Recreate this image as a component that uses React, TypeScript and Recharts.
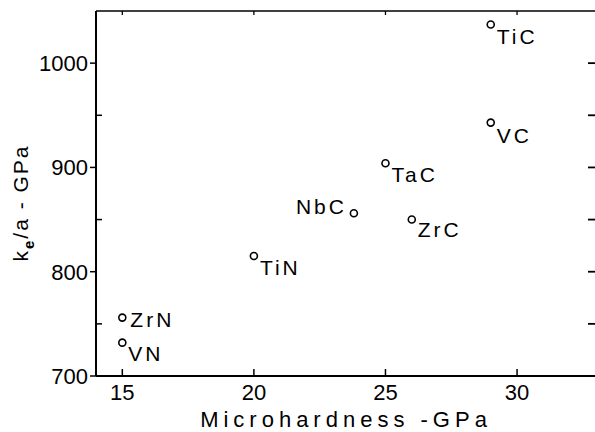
import React from 'react';
import { ScatterChart, Scatter, XAxis, YAxis } from 'recharts';

const compounds = ['TiC', 'VC', 'TaC', 'NbC', 'ZrC', 'TiN', 'ZrN', 'VN'];
const microhardness = [29, 29, 25, 23.8, 26, 20, 15, 15];
const keOverA = [1037, 943, 904, 856, 850, 815, 756, 732];

const xTicks = [15, 20, 25, 30];
const yTicks = [700, 750, 800, 850, 900, 950, 1000, 1050];

const data = compounds.map((name, i) => ({ name, x: microhardness[i], y: keOverA[i] }));

const FONT = '"Liberation Sans", Arial, sans-serif';
const PLOT = { left: 96, top: 11, right: 596, bottom: 376 };

// where each label sits relative to its circle
const labelPos: Record<string, { dx: number; dy: number; anchor: 'start' | 'end' }> = {
  TiC: { dx: 6, dy: 19, anchor: 'start' },
  VC: { dx: 6, dy: 20, anchor: 'start' },
  TaC: { dx: 6, dy: 19, anchor: 'start' },
  NbC: { dx: -7, dy: 1, anchor: 'end' },
  ZrC: { dx: 6, dy: 17, anchor: 'start' },
  TiN: { dx: 6, dy: 19, anchor: 'start' },
  ZrN: { dx: 8, dy: 9, anchor: 'start' },
  VN: { dx: 6, dy: 18, anchor: 'start' },
};

const PointShape = (props: any) => {
  const { cx, cy, payload } = props;
  const p = labelPos[payload.name] ?? { dx: 6, dy: 18, anchor: 'start' };
  return (
    <g>
      <circle cx={cx} cy={cy} r={3.5} fill="none" stroke="#000" strokeWidth={1.6} />
      <text
        x={cx + p.dx}
        y={cy + p.dy}
        textAnchor={p.anchor}
        fontFamily={FONT}
        fontSize={21}
        letterSpacing={3}
        fill="#000"
      >
        {payload.name}
      </text>
    </g>
  );
};

const BottomTick = (props: any) => {
  const { x, payload } = props;
  return (
    <g>
      <line x1={x} x2={x} y1={PLOT.bottom} y2={PLOT.bottom - 7} stroke="#000" strokeWidth={1.5} />
      <text x={x} y={400} textAnchor="middle" fontFamily={FONT} fontSize={22} fill="#000">
        {payload.value}
      </text>
    </g>
  );
};

const TopTick = (props: any) => {
  const { x } = props;
  return <line x1={x} x2={x} y1={PLOT.top} y2={PLOT.top + 4} stroke="#000" strokeWidth={1.3} />;
};

const LeftTick = (props: any) => {
  const { y, payload } = props;
  const major = payload.value % 100 === 0;
  if (payload.value > 1000) return <g />;
  return (
    <g>
      {major ? (
        <line x1={PLOT.left - 6} x2={PLOT.left} y1={y} y2={y} stroke="#000" strokeWidth={1.5} />
      ) : (
        <line x1={PLOT.left} x2={PLOT.left + 6} y1={y} y2={y} stroke="#000" strokeWidth={1.5} />
      )}
      {major && (
        <text x={88} y={y + 8} textAnchor="end" fontFamily={FONT} fontSize={22} fill="#000">
          {payload.value}
        </text>
      )}
    </g>
  );
};

const RightTick = (props: any) => {
  const { y, payload } = props;
  if (payload.value > 1000 || payload.value < 750) return <g />;
  return <line x1={PLOT.right - 8} x2={PLOT.right} y1={y} y2={y} stroke="#000" strokeWidth={1.8} />;
};

const YTitle = () => (
  <text
    transform="translate(28,203) rotate(-90)"
    textAnchor="middle"
    fontFamily={FONT}
    fontSize={21}
    letterSpacing={2}
    fill="#000"
  >
    k
    <tspan fontWeight="bold" fontSize={15} dy={6}>e</tspan>
    <tspan dy={-6}>/a - GPa</tspan>
  </text>
);

export default function App() {
  return (
    <div
      style={{
        position: 'absolute',
        left: 0,
        top: 0,
        width: 595,
        height: 432,
        overflow: 'hidden',
        background: '#fff',
      }}
    >
      <ScatterChart width={600} height={432} margin={{ top: 0, right: 0, bottom: 0, left: 0 }}>
        <XAxis
          xAxisId="bottom"
          type="number"
          dataKey="x"
          domain={[14, 33]}
          ticks={xTicks}
          tickLine={false}
          tick={<BottomTick />}
          axisLine={{ stroke: '#000', strokeWidth: 2 }}
          height={432 - PLOT.bottom}
          interval={0}
          label={{
            value: 'Microhardness -GPa',
            position: 'insideBottom',
            offset: 5,
            fontFamily: FONT,
            fontSize: 22,
            letterSpacing: 5,
            fill: '#000',
          }}
        />
        <XAxis
          xAxisId="top"
          orientation="top"
          type="number"
          dataKey="x"
          domain={[14, 33]}
          ticks={xTicks}
          tickLine={false}
          tick={<TopTick />}
          axisLine={{ stroke: '#000', strokeWidth: 1.5 }}
          height={PLOT.top}
          interval={0}
        />
        <YAxis
          yAxisId="left"
          type="number"
          dataKey="y"
          domain={[700, 1050]}
          ticks={yTicks}
          tickLine={false}
          tick={<LeftTick />}
          axisLine={{ stroke: '#000', strokeWidth: 2 }}
          width={PLOT.left}
          interval={0}
        />
        <YAxis
          yAxisId="right"
          orientation="right"
          type="number"
          dataKey="y"
          domain={[700, 1050]}
          ticks={yTicks}
          tickLine={false}
          tick={<RightTick />}
          axisLine={false}
          width={600 - PLOT.right}
          interval={0}
        />
        <Scatter
          data={data}
          xAxisId="bottom"
          yAxisId="left"
          shape={<PointShape />}
          isAnimationActive={false}
        />
        <Scatter
          data={data}
          xAxisId="top"
          yAxisId="right"
          shape={() => <g />}
          isAnimationActive={false}
        />
        <YTitle />
      </ScatterChart>
    </div>
  );
}
